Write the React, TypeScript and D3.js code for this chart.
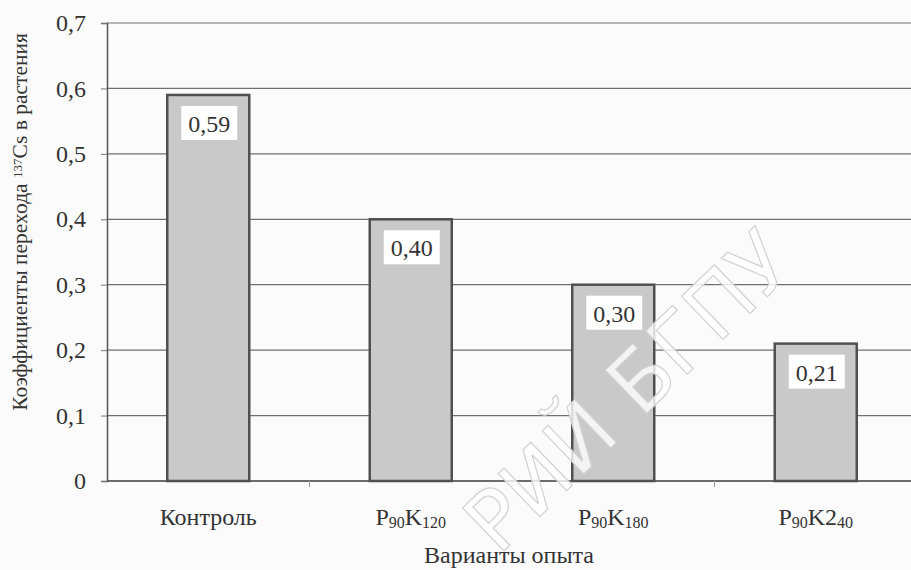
import React, { useEffect, useRef } from 'react';
import * as d3 from 'd3';

const categories = ['Контроль', 'P90K120', 'P90K180', 'P90K240'];
// label parts: [text, isSubscript]
const categoryParts: [string, boolean][][] = [
  [['Контроль', false]],
  [['P', false], ['90', true], ['K', false], ['120', true]],
  [['P', false], ['90', true], ['K', false], ['180', true]],
  [['P', false], ['90', true], ['K2', false], ['40', true]],
];
const values = [0.59, 0.40, 0.30, 0.21];
const valueLabels = ['0,59', '0,40', '0,30', '0,21'];
const yTicks = [0, 0.1, 0.2, 0.3, 0.4, 0.5, 0.6, 0.7];

const SERIF = '"Liberation Serif", "DejaVu Serif", "Noto Serif", Tinos, FreeSerif, "Times New Roman", Times, serif';

export default function App() {
  const ref = useRef<SVGSVGElement>(null);

  useEffect(() => {
    document.body.style.margin = '0';
    const width = 911, height = 570;
    const margin = { top: 23, right: -6, bottom: 89, left: 107 };
    const innerW = width - margin.left - margin.right;
    const innerH = height - margin.top - margin.bottom;

    const svg = d3.select(ref.current);
    svg.selectAll('*').remove();
    svg.append('rect').attr('width', width).attr('height', height).attr('fill', '#fbfbfb');

    const g = svg.append('g').attr('transform', `translate(${margin.left},${margin.top})`);

    const x = d3.scaleBand().domain(categories).range([0, innerW]).paddingInner(0).paddingOuter(0);
    const y = d3.scaleLinear().domain([0, 0.7]).range([innerH, 0]);

    // grid lines
    g.append('g').selectAll('line').data(yTicks).join('line')
      .attr('x1', 0).attr('x2', innerW)
      .attr('y1', d => y(d)).attr('y2', d => y(d))
      .attr('stroke', '#707070').attr('stroke-width', 1.2);

    // y axis
    const yAxis = g.append('g').call(
      d3.axisLeft(y).tickValues(yTicks).tickSize(6).tickPadding(15)
        .tickFormat(d => d3.format('.1f')(d as number).replace('.', ',').replace(/^0,0$/, '0'))
    );
    yAxis.attr('font-family', null).attr('font-size', null);
    yAxis.select('.domain').attr('stroke', '#555').attr('stroke-width', 1.5);
    yAxis.selectAll('.tick line').attr('stroke', '#777');
    yAxis.selectAll('.tick text')
      .style('font-family', SERIF).style('font-size', '24px').attr('fill', '#333');

    // x axis line + boundary ticks
    g.append('line').attr('x1', 0).attr('x2', innerW).attr('y1', innerH).attr('y2', innerH)
      .attr('stroke', '#555').attr('stroke-width', 1.5);
    g.append('g').selectAll('line').data(categories.slice(1)).join('line')
      .attr('x1', d => x(d)!).attr('x2', d => x(d)!)
      .attr('y1', innerH).attr('y2', innerH + 6).attr('stroke', '#999');

    // bars
    const barW = x.bandwidth() * 0.405;
    const bars = g.append('g').selectAll('g').data(values).join('g')
      .attr('transform', (d, i) => `translate(${x(categories[i])! + x.bandwidth() / 2},0)`);
    bars.append('rect')
      .attr('x', -barW / 2).attr('width', barW)
      .attr('y', d => y(d)).attr('height', d => innerH - y(d))
      .attr('fill', '#c9c9c9').attr('stroke', '#505050').attr('stroke-width', 2.5);
    bars.append('rect')
      .attr('x', -27).attr('width', 56)
      .attr('y', d => y(d) + 11).attr('height', 34)
      .attr('fill', '#ffffff');
    bars.append('text')
      .attr('x', 1).attr('y', d => y(d) + 37).attr('text-anchor', 'middle')
      .style('font-family', SERIF).style('font-size', '24px').attr('fill', '#333')
      .text((d, i) => valueLabels[i]);

    // category labels
    const labels = g.append('g').selectAll('text').data(categoryParts).join('text')
      .attr('x', (d, i) => x(categories[i])! + x.bandwidth() / 2)
      .attr('y', innerH + 44).attr('text-anchor', 'middle')
      .style('font-family', SERIF).style('font-size', '24px').attr('fill', '#333');
    labels.each(function (parts) {
      const t = d3.select(this);
      parts.forEach(([s, sub]) => {
        t.append('tspan').text(s)
          .style('font-size', sub ? '16px' : '24px')
          .attr('baseline-shift', sub ? '-20%' : null);
      });
    });

    // axis titles
    svg.append('text')
      .attr('x', margin.left + innerW / 2 - 3).attr('y', 563).attr('text-anchor', 'middle')
      .style('font-family', SERIF).style('font-size', '24px').attr('fill', '#333')
      .text('Варианты опыта');

    const yt = svg.append('text')
      .attr('transform', 'translate(27,222) rotate(-90)').attr('text-anchor', 'middle')
      .style('font-family', SERIF).style('font-size', '21.5px').attr('fill', '#333');
    yt.append('tspan').text('Коэффициенты перехода ');
    yt.append('tspan').text('137').style('font-size', '13px').attr('baseline-shift', '40%');
    yt.append('tspan').text('Cs в растения');

    // watermark
    svg.append('text')
      .attr('transform', 'translate(648,412) rotate(-44)').attr('text-anchor', 'middle')
      .style('font-family', '"DejaVu Sans", sans-serif').style('font-size', '82px')
      .attr('fill', '#ffffff').attr('fill-opacity', 0.8)
      .attr('stroke', '#d2d2d2').attr('stroke-width', 1.2)
      .text('РИЙ БГПУ');
  }, []);

  return <svg ref={ref} width={911} height={570} style={{ display: 'block' }} />;
}
